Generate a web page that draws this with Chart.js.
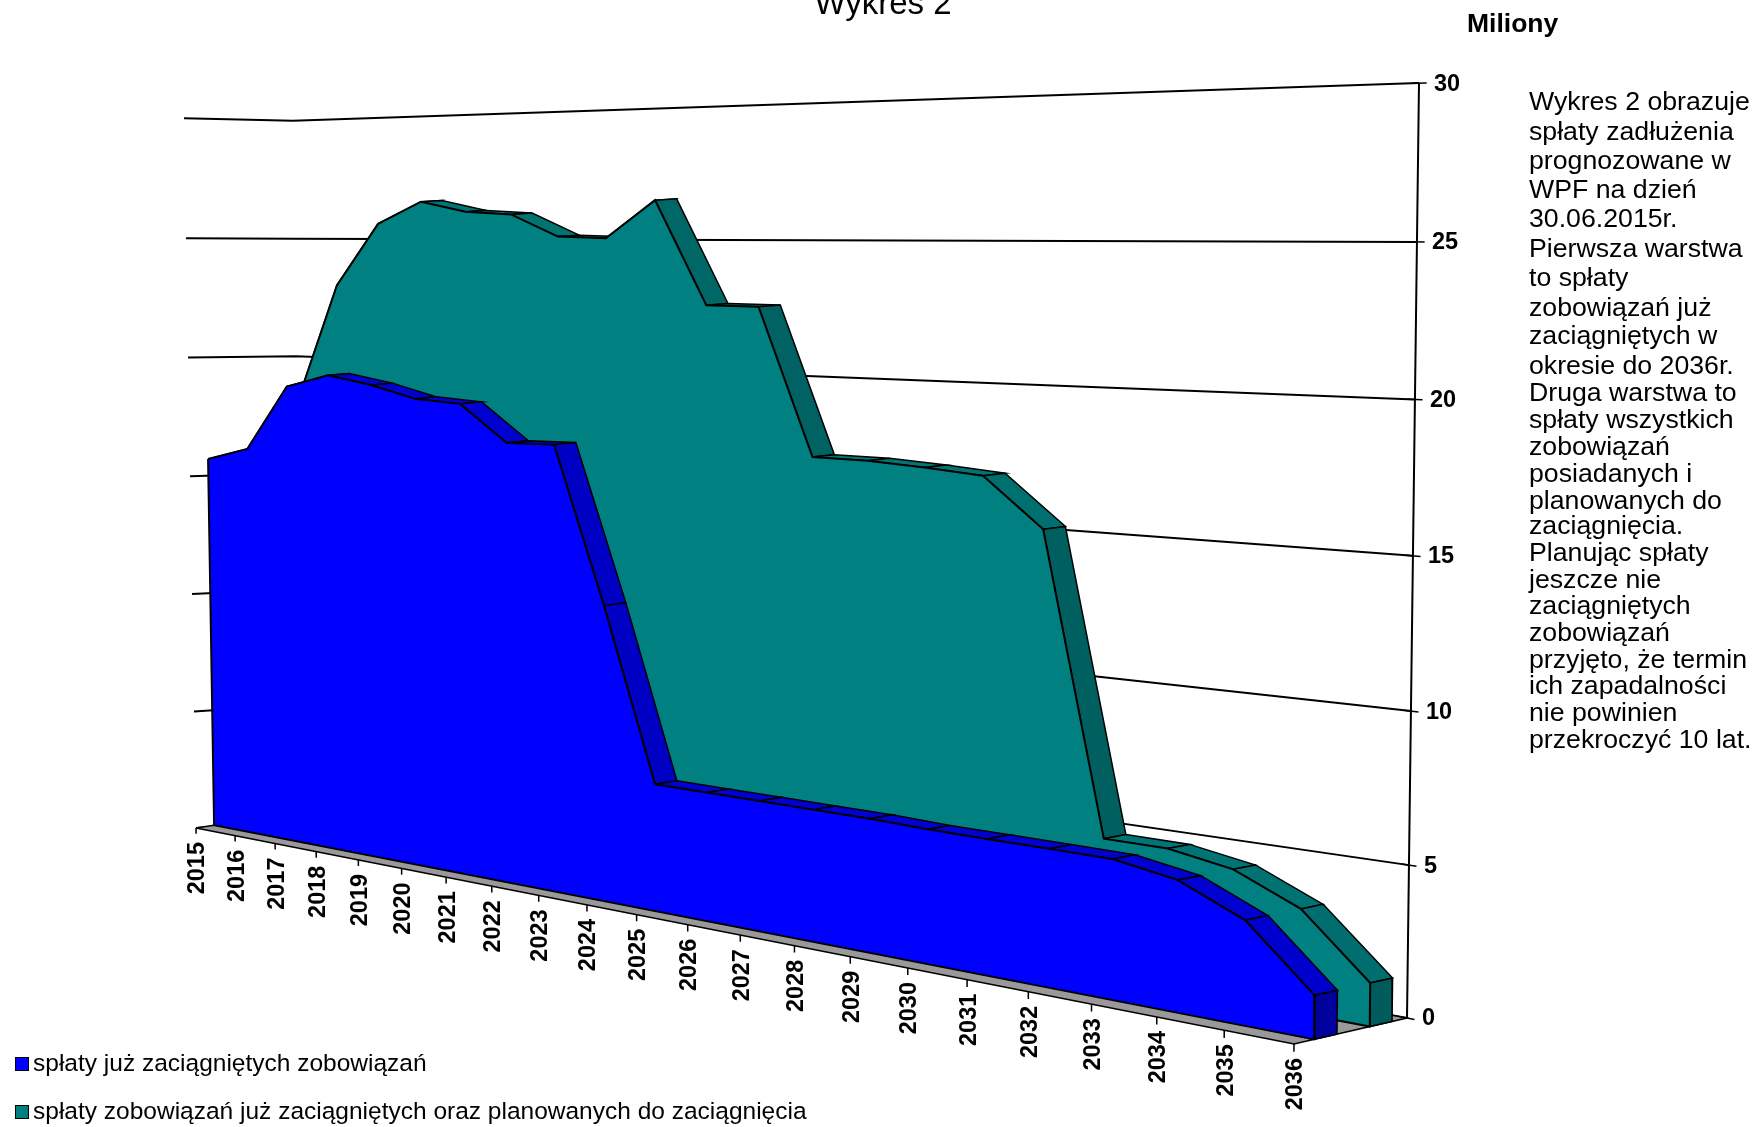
<!DOCTYPE html>
<html lang="pl">
<head>
<meta charset="utf-8">
<title>Wykres 2</title>
<script src="https://cdn.jsdelivr.net/npm/chart.js@4/dist/chart.umd.min.js"></script>
<style>
  html, body { margin: 0; padding: 0; background: #fff; overflow: hidden; }
  #page { position: relative; width: 1764px; height: 1127px; overflow: hidden; font-family: "Liberation Sans", Arial, sans-serif; color: #000; }
  #chart { position: absolute; left: 0; top: 0; }
  .abs { position: absolute; white-space: nowrap; line-height: 1; }
  #title { left: 883px; top: -14px; font-size: 33px; transform: translateX(-50%); }
  #unit { left: 1467px; top: 10px; font-size: 26.5px; font-weight: bold; }
  .note { left: 1529px; font-size: 26.7px; }
  .legend-box { position: absolute; left: 15px; width: 12px; height: 12px; border: 1px solid #000; }
  .legend-text { left: 33px; font-size: 24.5px; }
</style>
</head>
<body>
<div id="page">
  <canvas id="chart" width="1764" height="1127"></canvas>
  <div class="abs" id="title">Wykres 2</div>
  <div class="abs" id="unit">Miliony</div>
  <div id="note"></div>
  <div class="legend-box" style="top:1057px;background:#0000ff"></div>
  <div class="abs legend-text" style="top:1051px">spłaty już zaciągniętych zobowiązań</div>
  <div class="legend-box" style="top:1105px;background:#008080"></div>
  <div class="abs legend-text" style="top:1099px">spłaty zobowiązań już zaciągniętych oraz planowanych do zaciągnięcia</div>
</div>
<script>
/* ── data (millions) ────────────────────────────────────────── */
const years = [2015, 2016, 2017, 2018, 2019, 2020, 2021, 2022, 2023, 2024, 2025,
               2026, 2027, 2028, 2029, 2030, 2031, 2032, 2033, 2034, 2035, 2036];
const existingDebt = [15.65, 16.2, 18.9, 19.45, 19.15, 18.7, 18.6, 17.2, 17.25, 11.3, 4.8,
                      4.8, 4.8, 4.8, 4.8, 4.75, 4.75, 4.75, 4.75, 4.4, 3.45, 1.42];
const plannedDebt  = [16.0, 18.0, 22.9, 25.45, 26.35, 25.95, 25.85, 25.0, 24.95, 26.4, 22.5,
                      22.5, 17.1, 17.1, 17.0, 16.85, 15.15, 4.75, 4.75, 4.4, 3.45, 1.42];
const valueTicks = [0, 5, 10, 15, 20, 25, 30];
const noteLines = ["Wykres 2 obrazuje", "spłaty zadłużenia", "prognozowane w", "WPF na dzień",
  "30.06.2015r.", "Pierwsza warstwa", "to spłaty", "zobowiązań już", "zaciągniętych w",
  "okresie do 2036r.", "Druga warstwa to", "spłaty wszystkich", "zobowiązań", "posiadanych i",
  "planowanych do", "zaciągnięcia.", "Planując spłaty", "jeszcze nie", "zaciągniętych",
  "zobowiązań", "przyjęto, że termin", "ich zapadalności", "nie powinien", "przekroczyć 10 lat."];
const noteCentres = [90, 116, 142, 168, 194, 220, 246, 273, 298, 324, 348, 372,
                     396, 420, 444, 467, 491, 515, 538, 562, 586, 609, 633, 657];

noteLines.forEach((line, i) => {
  const el = document.createElement("div");
  el.className = "abs note";
  el.textContent = line;
  el.style.top = (noteCentres[i] * 1.125 - 13) + "px";
  document.getElementById("note").appendChild(el);
});

/* ── 3D box → screen: floor homography, height added in the same frame ── */
function quadMap(p00, p10, p11, p01) {
  const dx1 = p10.x - p11.x, dx2 = p01.x - p11.x, sx = p00.x - p10.x + p11.x - p01.x;
  const dy1 = p10.y - p11.y, dy2 = p01.y - p11.y, sy = p00.y - p10.y + p11.y - p01.y;
  const den = dx1 * dy2 - dx2 * dy1;
  const g = (sx * dy2 - dx2 * sy) / den, h = (dx1 * sy - sx * dy1) / den;
  const a = p10.x - p00.x + g * p10.x, b = p01.x - p00.x + h * p01.x;
  const d = p10.y - p00.y + g * p10.y, e = p01.y - p00.y + h * p01.y;
  return (u, v) => ({ X: a * u + b * v + p00.x, Y: d * u + e * v + p00.y, W: g * u + h * v + 1 });
}

const floorFront = { x: 196, y: 828 }, floorRight = { x: 1294, y: 1044 }, floorBack = { x: 1407, y: 1018 };
// heights follow one frame, the category spacing along the floor a slightly flatter one
const heightPlane = quadMap(floorFront, floorRight, floorBack, { x: 298, y: 812 });
const spacingPlane = quadMap(floorFront, floorRight, floorBack, { x: 298, y: 812.3 });
const valueMax = valueTicks[valueTicks.length - 1];

// top of the box at two corners fixes the vertical direction
const cornerA = heightPlane(1, 1), topA = { x: 1419, y: 82 };
const cornerB = heightPlane(0, 0), topB = { x: 184, y: 119 };
const riseW = ((cornerA.X - topA.x * cornerA.W) - (cornerB.X - topB.x * cornerB.W)) / (topA.x - topB.x);
const riseX = (topA.x * (cornerA.W + riseW) - cornerA.X + topB.x * (cornerB.W + riseW) - cornerB.X) / 2;
const riseY = (topA.y * (cornerA.W + riseW) - cornerA.Y + topB.y * (cornerB.W + riseW) - cornerB.Y) / 2;

function project(c, value, z) {
  const f = heightPlane(c, z), p = spacingPlane(c, z);
  const s = value / valueMax;
  const w = f.W + riseW * s;
  return {
    x: (f.X + riseX * s) / w + p.X / p.W - f.X / f.W,
    y: (f.Y + riseY * s) / w + p.Y / p.W - f.Y / f.W,
  };
}

const colPos = (i) => i / (years.length - 1);

/* ── dataset helpers, pushed back to front ──────────────────── */
const datasets = [];

function polygon(points, fillColor, width, lineColor) {
  datasets.push({
    data: points.concat([points[0]]),
    showLine: true, pointRadius: 0, tension: 0, clip: false,
    fill: "shape", backgroundColor: fillColor,
    borderColor: lineColor || "#000", borderWidth: width,
  });
}

function line(points, width) {
  datasets.push({
    data: points,
    showLine: true, pointRadius: 0, tension: 0, clip: false,
    fill: false, borderColor: "#000", borderWidth: width,
  });
}

function mix(a, b, t) {
  return "rgb(" + a.map((v, i) => Math.round(v + (b[i] - v) * t)).join(",") + ")";
}

function addSeries(values, zFront, zBack, front, flat, steep, cap) {
  const last = values.length - 1;
  for (let i = 0; i < last; i++) {
    const a = project(colPos(i), values[i], zFront), b = project(colPos(i + 1), values[i + 1], zFront);
    const slope = Math.abs((b.y - a.y) / (b.x - a.x));
    polygon([a, b, project(colPos(i + 1), values[i + 1], zBack), project(colPos(i), values[i], zBack)],
      mix(flat, steep, Math.min(1, slope / 3)), 1.5);
  }
  polygon([project(1, values[last], zFront), project(1, values[last], zBack),
           project(1, 0, zBack), project(1, 0, zFront)], cap, 1.5);

  const outline = values.map((v, i) => project(colPos(i), v, zFront));
  outline.push(project(1, 0, zFront), project(0, 0, zFront));
  polygon(outline, front, 2);
}

/* gridlines on the two walls; the far corner sits a little off the frame in the original */
const wallDrop = 7, wallShift = 5;
valueTicks.forEach((v) => {
  const corner = project(0, v, 1);
  line([project(0, v, 0), { x: corner.x + wallShift, y: corner.y + wallDrop }, project(1, v, 1)], 2);
});

/* floor */
polygon([project(0, 0, 0), project(1, 0, 0), project(1, 0, 1), project(0, 0, 1)], "#999999", 1.5);

/* value axis and its ticks */
line([project(1, 0, 1), project(1, valueMax, 1)], 2);
valueTicks.forEach((v) => {
  line([project(0.995, v, 1), project(1.005, v, 1)], 1.5);
});

/* category ticks */
years.forEach((y, i) => {
  line([project(colPos(i), 0, 0), project(colPos(i), -0.25, 0)], 1.5);
});

addSeries(plannedDebt, 0.665, 0.865, "#008080", [0, 118, 118], [0, 96, 96], "#005c5c");
addSeries(existingDebt, 0.175, 0.375, "#0000ff", [0, 0, 212], [0, 0, 196], "#00009c");

/* ── tick labels ─────────────────────────────────────────────── */
const tickLabels = {
  id: "tickLabels",
  afterDraw(chart) {
    const { ctx, scales } = chart;
    ctx.save();
    ctx.fillStyle = "#000";
    ctx.font = "bold 23.5px 'Liberation Sans', Arial, sans-serif";

    ctx.textAlign = "left";
    ctx.textBaseline = "middle";
    valueTicks.forEach((v) => {
      const p = project(1, v, 1);
      ctx.fillText(String(v), scales.x.getPixelForValue(p.x) + 15, scales.y.getPixelForValue(p.y) + 1);
    });

    ctx.textAlign = "right";
    years.forEach((y, i) => {
      const p = project(colPos(i), 0, 0);
      ctx.save();
      ctx.translate(scales.x.getPixelForValue(p.x), scales.y.getPixelForValue(p.y) + 14);
      ctx.rotate(-Math.PI / 2);
      ctx.fillText(String(y), 0, 2);
      ctx.restore();
    });
    ctx.restore();
  },
};

new Chart(document.getElementById("chart").getContext("2d"), {
  type: "scatter",
  data: { datasets: datasets.slice().reverse() },
  options: {
    responsive: false,
    animation: false,
    events: [],
    layout: { padding: 0 },
    plugins: { legend: { display: false }, tooltip: { enabled: false }, title: { display: false } },
    scales: {
      x: { type: "linear", display: false, min: 0, max: 1764 },
      y: { type: "linear", display: false, min: 0, max: 1127, reverse: true },
    },
  },
  plugins: [tickLabels],
});
</script>
</body>
</html>
